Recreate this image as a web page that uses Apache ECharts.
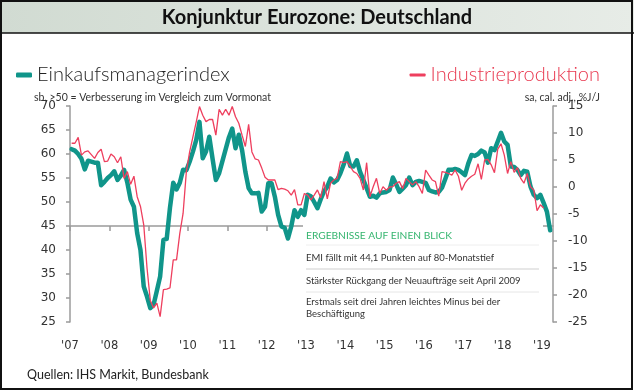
<!DOCTYPE html>
<html>
<head>
<meta charset="utf-8">
<script src="https://cdn.jsdelivr.net/npm/echarts@6/dist/echarts.min.js"></script>
<style>html,body{margin:0;padding:0;background:#fff}#c{width:634px;height:392px}</style>
</head>
<body>
<div id="c"></div>
<script>
// Year tick labels
const yearTicks = [2007,2008,2009,2010,2011,2012,2013,2014,2015,2016,2017,2018,2019];
const startYear = 2007;
// Einkaufsmanagerindex (EMI), monthly, Jan 2007 - Mar 2019 (left axis)
const emi = [
 61.0,60.7,60.0,59.0,56.8,58.6,58.4,58.2,58.2,53.5,54.2,55.0,
 55.6,56.4,54.6,55.5,56.7,54.0,50.5,49.0,43.5,40.0,32.4,30.3,
 27.9,28.6,31.5,34.5,42.1,42.3,48.8,54.0,52.6,54.0,56.7,56.6,
 58.4,60.5,62.9,66.7,59.1,60.5,63.6,59.0,54.6,56.0,58.5,61.0,
 63.5,65.3,61.2,64.0,60.8,56.3,52.9,51.8,51.8,51.9,48.0,49.0,
 53.9,53.9,51.1,47.3,44.9,44.6,42.4,44.9,48.3,46.9,48.3,47.3,
 51.5,51.2,50.0,48.7,50.6,52.2,53.2,54.9,54.1,54.6,56.0,57.8,
 60.1,57.5,57.4,58.7,56.3,54.6,52.9,51.1,51.3,50.9,51.8,52.0,
 52.1,52.5,55.1,53.7,52.1,52.8,53.5,55.1,53.5,54.2,54.4,54.2,
 54.0,52.5,52.2,52.0,52.1,53.0,54.8,56.7,56.7,56.9,56.7,56.2,
 55.6,58.0,59.8,59.6,60.0,60.7,60.3,58.2,61.2,60.8,62.6,64.4,
 62.6,61.9,57.4,57.3,56.7,55.6,56.5,56.3,53.2,51.5,50.8,51.5,
 49.8,48.0,44.1
];
// Industrieproduktion, % y/y, monthly, Jan 2007 - Jan 2019 (right axis)
const ip = [
 8.1,8.1,9.2,5.9,6.5,6.7,6.0,5.3,6.4,7.0,4.7,4.8,
 6.1,5.6,4.5,5.6,1.6,2.85,0.5,2.0,-1.8,-3.6,-7.0,-15.0,
 -21.0,-22.4,-21.5,-24.0,-19.0,-18.9,-18.7,-13.5,-13.5,-8.6,-4.9,2.85,
 6.5,9.3,12.0,14.9,13.3,12.1,12.5,12.5,9.6,14.4,13.3,14.4,
 13.3,14.9,13.0,11.8,9.6,7.5,11.6,6.5,5.2,5.0,3.5,1.8,
 1.3,1.3,1.3,-0.5,-0.25,-0.4,-0.7,-1.5,-0.5,-3.3,-3.3,-1.2,
 -1.5,-2.4,-1.5,-0.55,-2.0,1.0,-2.2,0.7,1.3,1.6,4.7,4.5,
 4.7,3.8,2.85,2.5,1.6,-0.55,4.5,-1.8,0.06,1.6,-1.2,0.06,
 -0.6,0.0,0.06,0.7,1.0,-0.3,1.6,1.0,0.4,1.0,0.06,-1.2,
 3.15,2.2,1.3,1.0,-1.7,2.85,2.7,2.5,2.2,3.15,2.0,-0.6,
 0.7,1.5,2.0,2.35,4.3,1.4,5.0,5.1,4.1,2.65,7.0,8.0,
 5.9,2.5,4.7,2.7,3.6,1.6,0.7,2.5,0.06,-0.55,-4.4,-3.3,
 -3.9
];
const emiName = 'Einkaufsmanagerindex';
const ipName = 'Industrieproduktion';
const toPts = arr => arr.map((v, i) => [startYear + (i + 0.5) / 12, v]);

const axisGray = '#9b9b9b';
const teal = '#10958a';
const red = '#ee3f5e';
const chart = echarts.init(document.getElementById('c'));
chart.setOption({
  animation: false,
  backgroundColor: '#fff',
  grid: { left: 70, right: 81, top: 106, bottom: 70 },
  legend: [
    { data: [emiName], left: 11, top: 60, icon: 'roundRect', itemWidth: 16, itemHeight: 5, itemGap: 4,
      textStyle: { fontFamily: 'Lato', fontWeight: 300, fontSize: 20, color: '#222' } },
    { data: [ipName], right: 29, top: 60, icon: 'roundRect', itemWidth: 16, itemHeight: 3, itemGap: 4,
      textStyle: { fontFamily: 'Lato', fontWeight: 300, fontSize: 20, color: '#e8384f' } }
  ],
  xAxis: [
    { type: 'value', min: 2007, max: 2019.28, offset: -120,
      axisLine: { show: true, lineStyle: { color: axisGray, width: 1.5 } },
      axisTick: { show: true, length: 5, customValues: yearTicks, lineStyle: { color: axisGray, width: 1.5 } },
      axisLabel: { show: false }, splitLine: { show: false } },
    { type: 'value', min: 2007, max: 2019.28, position: 'bottom',
      axisLine: { show: false }, axisTick: { show: false }, splitLine: { show: false },
      axisLabel: { customValues: yearTicks, margin: 18, fontFamily: 'DejaVu Sans', fontSize: 11.5, color: '#333',
        formatter: v => "'" + String(Math.round(v)).slice(2) } }
  ],
  yAxis: [
    { type: 'value', min: 25, max: 70, interval: 5, position: 'left',
      axisLine: { show: true, lineStyle: { color: axisGray, width: 1.5 } },
      axisTick: { show: true, length: 4, lineStyle: { color: axisGray, width: 1.5 } },
      axisLabel: { margin: 14, fontFamily: 'DejaVu Sans', fontSize: 12, color: '#333' },
      splitLine: { show: false } },
    { type: 'value', min: -25, max: 15, interval: 5, position: 'right',
      axisLine: { show: true, lineStyle: { color: axisGray, width: 1.5 } },
      axisTick: { show: true, length: 4, lineStyle: { color: axisGray, width: 1.5 } },
      axisLabel: { margin: 15, fontFamily: 'DejaVu Sans', fontSize: 12, color: '#333' },
      splitLine: { show: false } }
  ],
  series: [
    { name: emiName, type: 'line', xAxisIndex: 0, yAxisIndex: 0, data: toPts(emi), showSymbol: false,
      color: teal, lineStyle: { color: teal, width: 4.5, join: 'round', cap: 'round' }, z: 2 },
    { name: ipName, type: 'line', xAxisIndex: 0, yAxisIndex: 1, data: toPts(ip), showSymbol: false,
      color: red, lineStyle: { color: red, width: 1.3 }, z: 3 }
  ],
  graphic: [
    { type: 'rect', shape: { x: 0, y: 0, width: 634, height: 33 }, z: 0, silent: true,
      style: { fill: new echarts.graphic.LinearGradient(0, 0, 1, 0, [{offset: 0, color: '#d1dbd2'}, {offset: 1, color: '#e7ece7'}]) } },
    { type: 'line', shape: { x1: 0, y1: 33, x2: 634, y2: 33 }, style: { stroke: '#111', lineWidth: 1.5 }, z: 10 },
    { type: 'rect', shape: { x: 1, y: 1, width: 631, height: 388 }, style: { fill: null, stroke: '#111', lineWidth: 2 }, z: 10 },
    { type: 'text', x: 317, y: 18, z: 10, style: { text: 'Konjunktur Eurozone: Deutschland', fontFamily: 'Lato', fontWeight: 'bold', fontSize: 20, fill: '#111', align: 'center', verticalAlign: 'middle' } },
    { type: 'text', x: 34, y: 98, z: 10, style: { text: 'sb, >50 = Verbesserung im Vergleich zum Vormonat', fontFamily: 'Lato', fontSize: 10.5, fill: '#333', verticalAlign: 'middle' } },
    { type: 'text', x: 600, y: 98, z: 10, style: { text: 'sa, cal. adj., %J/J', fontFamily: 'Lato', fontSize: 10.5, fill: '#333', align: 'right', verticalAlign: 'middle' } },
    { type: 'text', x: 27, y: 375, z: 10, style: { text: 'Quellen: IHS Markit, Bundesbank', fontFamily: 'Lato', fontSize: 12.5, fill: '#222', verticalAlign: 'middle' } },
    { type: 'rect', shape: { x: 303, y: 225, width: 240, height: 100 }, z: 5, style: { fill: '#fff' } },
    { type: 'text', x: 306, y: 236, z: 10, style: { text: 'ERGEBNISSE AUF EINEN BLICK', fontFamily: 'Lato', fontSize: 10.2, fill: '#35b56f', verticalAlign: 'middle' } },
    { type: 'line', shape: { x1: 306, y1: 245, x2: 539, y2: 245 }, z: 10, style: { stroke: '#eeeeee', lineWidth: 1 } },
    { type: 'text', x: 306, y: 258, z: 10, style: { text: 'EMI fällt mit 44,1 Punkten auf 80-Monatstief', fontFamily: 'Lato', fontSize: 9.5, fill: '#333', verticalAlign: 'middle' } },
    { type: 'line', shape: { x1: 306, y1: 269, x2: 539, y2: 269 }, z: 10, style: { stroke: '#cfcfcf', lineWidth: 1 } },
    { type: 'text', x: 306, y: 281, z: 10, style: { text: 'Stärkster Rückgang der Neuaufträge seit April 2009', fontFamily: 'Lato', fontSize: 9.5, fill: '#333', verticalAlign: 'middle' } },
    { type: 'line', shape: { x1: 306, y1: 292, x2: 539, y2: 292 }, z: 10, style: { stroke: '#e6e6e6', lineWidth: 1 } },
    { type: 'text', x: 306, y: 302, z: 10, style: { text: 'Erstmals seit drei Jahren leichtes Minus bei der', fontFamily: 'Lato', fontSize: 9.5, fill: '#333', verticalAlign: 'middle' } },
    { type: 'text', x: 306, y: 314, z: 10, style: { text: 'Beschäftigung', fontFamily: 'Lato', fontSize: 9.5, fill: '#333', verticalAlign: 'middle' } }
  ]
});
</script>
</body>
</html>
